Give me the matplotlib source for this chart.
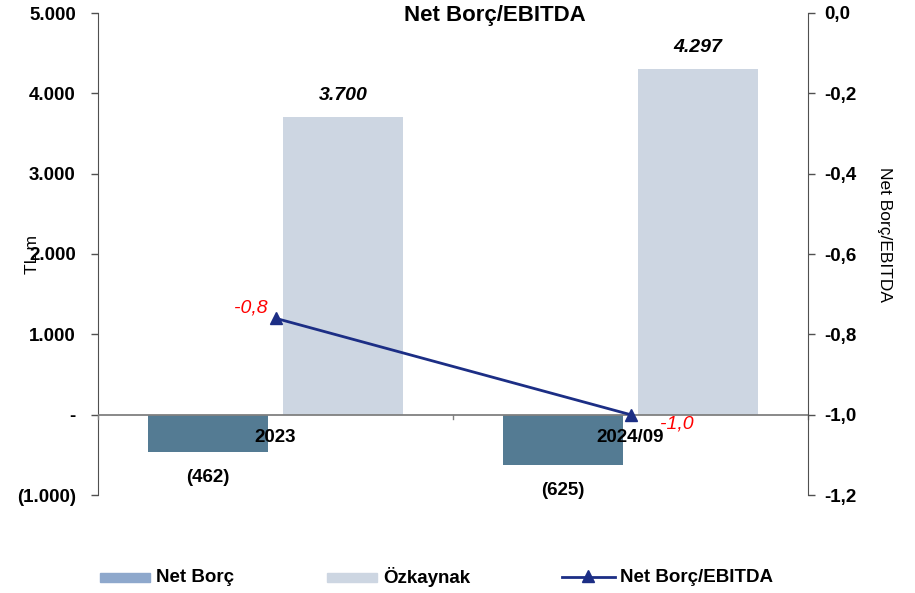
import matplotlib
matplotlib.use("Agg")
import matplotlib.pyplot as plt
from matplotlib.patches import Rectangle
import numpy as np

plt.rcParams['font.family'] = ['Liberation Sans', 'DejaVu Sans']

categories = ["2023", "2024/09"]
net_borc = [-462, -625]
ozkaynak = [3700, 4297]
ratio = [-0.76, -1.0]
ratio_labels = ["-0,8", "-1,0"]
net_borc_labels = ["(462)", "(625)"]
ozkaynak_labels = ["3.700", "4.297"]
left_ticks = [-1000, 0, 1000, 2000, 3000, 4000, 5000]
left_tick_labels = ["(1.000)", "-", "1.000", "2.000", "3.000", "4.000", "5.000"]
right_ticks = [-1.2, -1.0, -0.8, -0.6, -0.4, -0.2, 0.0]
right_tick_labels = ["-1,2", "-1,0", "-0,8", "-0,6", "-0,4", "-0,2", "0,0"]
legend_labels = ["Net Borç", "Özkaynak", "Net Borç/EBITDA"]

c_net = "#547B93"
c_net_leg = "#8EA8CC"
c_ozk = "#CDD6E2"
c_line = "#1C2E85"
c_axis = "#505050"

FS = 13.5

fig = plt.figure(figsize=(9.15, 5.93), dpi=100)
ax = fig.add_axes([98/915, 1-495/593, (808-98)/915, (495-13)/593])
x = np.arange(len(categories))
w = 0.34
off = 0.19
ax.bar(x - off, net_borc, w, color=c_net, zorder=2)
ax.bar(x + off, ozkaynak, w, color=c_ozk, zorder=2)
ax.set_xlim(-0.5, 1.5)
ax.set_ylim(-1000, 5000)
ax.set_yticks(left_ticks)
ax.set_yticklabels(left_tick_labels, fontsize=FS, fontweight='bold')
ax.tick_params(axis='y', direction='out', length=5, width=1, color=c_axis, pad=11)
for s in ['top', 'right', 'bottom']:
    ax.spines[s].set_visible(False)
ax.spines['left'].set_color(c_axis)
ax.set_xticks([])
ax.axhline(0, color='#808080', lw=1.3, zorder=3)
for xb in [-0.5, 0.5, 1.5]:
    ax.plot([xb, xb], [0, -60], color='#808080', lw=1, zorder=3, clip_on=False)
for i, c in enumerate(categories):
    ax.text(x[i], -285, c, ha='center', va='center', fontsize=FS, fontweight='bold', zorder=5)
    ax.text(x[i] - off, net_borc[i] - 315, net_borc_labels[i], ha='center', va='center',
            fontsize=FS, fontweight='bold')
    ax.text(x[i] + off, ozkaynak[i] + 275, ozkaynak_labels[i], ha='center', va='center',
            fontsize=14, fontweight='bold', style='italic')
ax.set_ylabel("TL m", fontsize=12.5)
ax.yaxis.set_label_coords(-0.082, 0.5)

ax2 = ax.twinx()
ax2.set_ylim(-1.2, 0.0)
ax2.plot(x, ratio, color=c_line, lw=2, marker='^', markersize=8, zorder=4)
ax2.set_yticks(right_ticks)
ax2.set_yticklabels(right_tick_labels, fontsize=FS, fontweight='bold')
ax2.tick_params(axis='y', direction='out', length=5, width=1, color=c_axis, pad=7)
for s in ['top', 'left', 'bottom']:
    ax2.spines[s].set_visible(False)
ax2.spines['right'].set_color(c_axis)
ax2.text(x[0] - 0.07, ratio[0] + 0.025, ratio_labels[0], color='red', style='italic',
         fontsize=14, ha='center', va='center')
ax2.text(x[1] + 0.13, ratio[1] - 0.022, ratio_labels[1], color='red', style='italic',
         fontsize=14, ha='center', va='center')
ax2.set_ylabel("Net Borç/EBITDA", fontsize=12.5, rotation=-90, va='center')
ax2.yaxis.set_label_coords(1.108, 0.54)

fig.text(495/915, 1-15/593, "Net Borç/EBITDA", ha='center', va='center', fontsize=16, fontweight='bold')

# legend in pixel coordinates
lax = fig.add_axes([0, 0, 1, 1], facecolor='none')
lax.set_xlim(0, 915)
lax.set_ylim(593, 0)
lax.axis('off')
ly = 577
lax.add_patch(Rectangle((100, ly - 4.5), 50, 9, color=c_net_leg))
lax.text(156, ly, legend_labels[0], ha='left', va='center', fontsize=FS, fontweight='bold')
lax.add_patch(Rectangle((327, ly - 4.5), 50, 9, color=c_ozk))
lax.text(383, ly, legend_labels[1], ha='left', va='center', fontsize=FS, fontweight='bold')
lax.plot([562, 615], [ly, ly], color=c_line, lw=2)
lax.plot([588], [ly - 1], color=c_line, marker='^', markersize=8)
lax.text(620, ly, legend_labels[2], ha='left', va='center', fontsize=FS, fontweight='bold')

fig.savefig("out.png", dpi=100)
